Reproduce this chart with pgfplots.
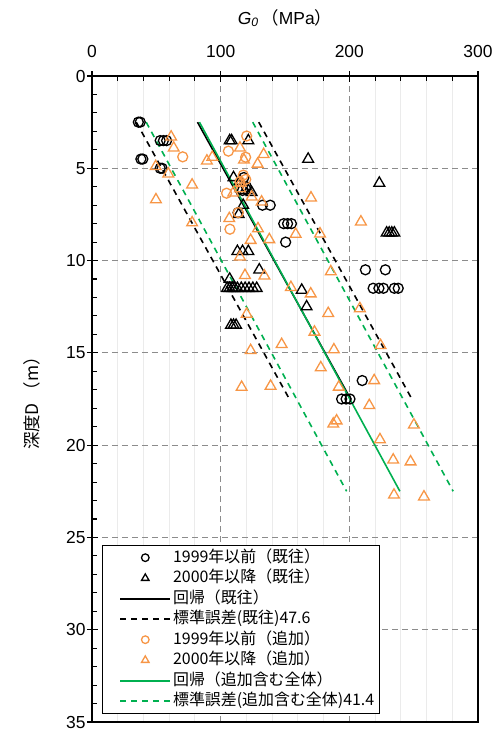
\documentclass[border=0pt]{standalone}
\usepackage{fontspec}
\setmainfont{Liberation Sans}
\newfontfamily\jp{Noto Sans CJK JP}
\usepackage{pgfplots}
\pgfplotsset{compat=1.18}
\definecolor{myorange}{RGB}{247,150,70}
\definecolor{mygreen}{RGB}{0,176,80}
\pgfplotsset{
  circleg/.style={legend image code/.code={\path (0bp,0bp) (64bp,0bp); \draw[##1, mark size=3.8bp] plot coordinates {(39bp,0bp)};}},
  trileg/.style={legend image code/.code={\path (0bp,0bp) (64bp,0bp); \draw[##1, mark size=4.3bp] plot coordinates {(39bp,0bp)};}},
  lineleg/.style={legend image code/.code={\path (0bp,0bp) (64bp,0bp); \draw[##1] (14bp,0bp) -- (64bp,0bp);}},
}
\begin{document}
\begin{tikzpicture}
\begin{axis}[
  name=ax,
  scale only axis, width=386bp, height=646bp,
  xmin=0, xmax=300, ymin=0, ymax=35, y dir=reverse,
  xtick={0,100,200,300}, minor x tick num=4,
  ytick={0,5,...,35}, minor y tick num=4,
  xticklabel pos=upper, xtick pos=upper,
  ytick pos=left,
  tick align=inside,
  major tick length=6bp, minor tick length=5bp,
  every tick/.style={black, line width=1.1bp},
  extra x ticks={0,100,200,300}, extra x tick labels={},
  extra x tick style={tick align=outside, major tick length=5bp, grid=none},
  extra y ticks={0,5,...,35}, extra y tick labels={},
  extra y tick style={tick align=outside, major tick length=5bp, grid=none},
  xmajorgrids=true, ymajorgrids=true, xminorgrids=true,
  major grid style={gray!90, line width=0.9bp, dash pattern=on 6bp off 4bp},
  minor grid style={black!8, line width=0.9bp},
  axis line style={line width=1.8bp},
  ticklabel style={font=\fontsize{17.5}{20}\selectfont},
  xticklabel shift=15bp, yticklabel shift=3bp,
  /pgf/number format/assume math mode=true,
  xlabel={\textit{G}\textsubscript{\textit{0}}\,{\jp （}MPa{\jp ）}},
  ylabel={\jp 深度D （m）},
  label style={font=\fontsize{17.5}{20}\selectfont},
  xlabel style={at={(axis description cs:0.5,1)}, anchor=center, yshift=58bp},
  ylabel style={at={(axis description cs:-0.155,0.5)}, anchor=center},
  legend style={at={(0.026,0.274)}, anchor=north west, draw=black, line width=0.9bp,
    font=\jp\fontsize{16}{18}\selectfont, cells={anchor=west},
    nodes={inner sep=2bp, text height=13bp, text depth=3.5bp}, row sep=0bp,
    inner xsep=3bp, inner ysep=2bp},
  legend cell align=left,
]
% 1999 and before (existing) - black circles
\addplot[only marks, mark=o, black, mark size=5bp, mark options={line width=1.3bp}, circleg]
coordinates {
(36,2.5)(37.5,2.5)(53,3.5)(55.5,3.5)(58,3.5)(38,4.5)(39.5,4.5)(53,5)(54.5,5)
(118,5.5)(120,6.0)(117,6.2)(113.5,7.4)(132.5,7.0)(138.5,7.0)
(149,8)(152,8)(155,8)(150.5,9)
(212.5,10.5)(228,10.5)(218.5,11.5)(223,11.5)(226.5,11.5)(235,11.5)(238,11.5)
(210,16.5)(194,17.5)(197.5,17.5)(200.5,17.5)
};
\addlegendentry{1999年以前（既往）}
% 2000 and after (existing) - black triangles
\addplot[only marks, mark=triangle, black, mark size=6.2bp, mark options={line width=1.3bp}, trileg]
coordinates {
(107,3.5)(108.5,3.5)(121.5,3.5)(168,4.5)(223.3,5.8)
(110,5.5)(115,5.7)(119,6.2)(121.5,6.2)(124,6.3)(117.5,7.0)(114,7.5)
(229,8.5)(231,8.5)(233,8.5)(235,8.5)
(113,9.5)(117,9.5)(121.5,9.5)(130,10.5)(107,11.0)
(105,11.5)(107,11.5)(109,11.5)(111,11.5)(113,11.5)(116,11.5)(119,11.5)(122,11.5)(125,11.5)(128,11.5)
(163,11.6)(166.8,12.5)(108,13.5)(110,13.5)(112,13.5)
};
\addlegendentry{2000年以降（既往）}
% regression existing
\addplot[black, line width=1.6bp, lineleg]
coordinates {(82,2.5)(201,17.5)};
\addlegendentry{回帰（既往）}
\addplot[black, line width=1.6bp, dash pattern=on 6bp off 5bp, lineleg]
coordinates {(34.4,2.5)(153.4,17.5)};
\addlegendentry{標準誤差(既往)47.6}
\addplot[black, line width=1.6bp, dash pattern=on 6bp off 5bp, forget plot]
coordinates {(129.6,2.5)(248.6,17.5)};
% 1999 and before (added) - orange circles
\addplot[only marks, mark=o, myorange, mark size=5bp, mark options={line width=1.3bp}, circleg]
coordinates {
(120.2,3.25)(106,4.07)(119.4,4.4)(70.5,4.38)(117.6,5.37)(119.5,5.6)(115,5.73)
(104.6,6.35)(113.7,7.4)(107.2,8.3)
};
\addlegendentry{1999年以前（追加）}
% 2000 and after (added) - orange triangles
\addplot[only marks, mark=triangle, myorange, mark size=6.2bp, mark options={line width=1.3bp}, trileg]
coordinates {
(61.5,3.3)(63.5,3.9)(49.5,4.9)(59.3,5.3)(49.7,6.7)(77.8,5.9)(77.8,7.95)(89.3,4.6)(93.5,4.4)
(115,3.9)(118.1,4.55)(133.4,4.25)(128.7,4.77)(115.5,5.8)(115,6.1)(109.8,6.33)(124.1,6.55)(131.8,6.82)
(106.7,7.72)(129,8.27)(123.3,8.9)(137.8,8.86)(115,9.8)(118.9,10.8)(134,10.83)
(170.2,6.6)(209,7.9)(158.3,8.57)(177.2,8.55)(185.6,10.6)(154.6,11.45)(170,11.8)
(120.2,12.9)(147.4,14.54)(123.3,14.87)(183.6,12.86)(172.9,13.87)(188,14.83)(177.8,15.8)
(116.3,16.86)(138.8,16.8)(191.8,16.85)(187.5,18.85)(190.1,18.68)
(208.2,12.6)(224.3,14.6)(219.3,16.5)(215.5,17.85)(250.2,18.9)(223.8,19.7)
(234.1,20.8)(247.6,20.9)(234.7,22.7)(258,22.8)
};
\addlegendentry{2000年以降（追加）}
% regression all
\addplot[mygreen, line width=1.6bp, lineleg]
coordinates {(83.5,2.5)(239.3,22.5)};
\addlegendentry{回帰（追加含む全体）}
\addplot[mygreen, line width=1.6bp, dash pattern=on 6bp off 5bp, lineleg]
coordinates {(42.1,2.5)(197.9,22.5)};
\addlegendentry{標準誤差(追加含む全体)41.4}
\addplot[mygreen, line width=1.6bp, dash pattern=on 6bp off 5bp, forget plot]
coordinates {(124.9,2.5)(280.7,22.5)};
\end{axis}
\pgfresetboundingbox
\path ([shift={(-92bp,-9bp)}]ax.south west) rectangle ([shift={(21bp,76bp)}]ax.north east);
\end{tikzpicture}
\end{document}
